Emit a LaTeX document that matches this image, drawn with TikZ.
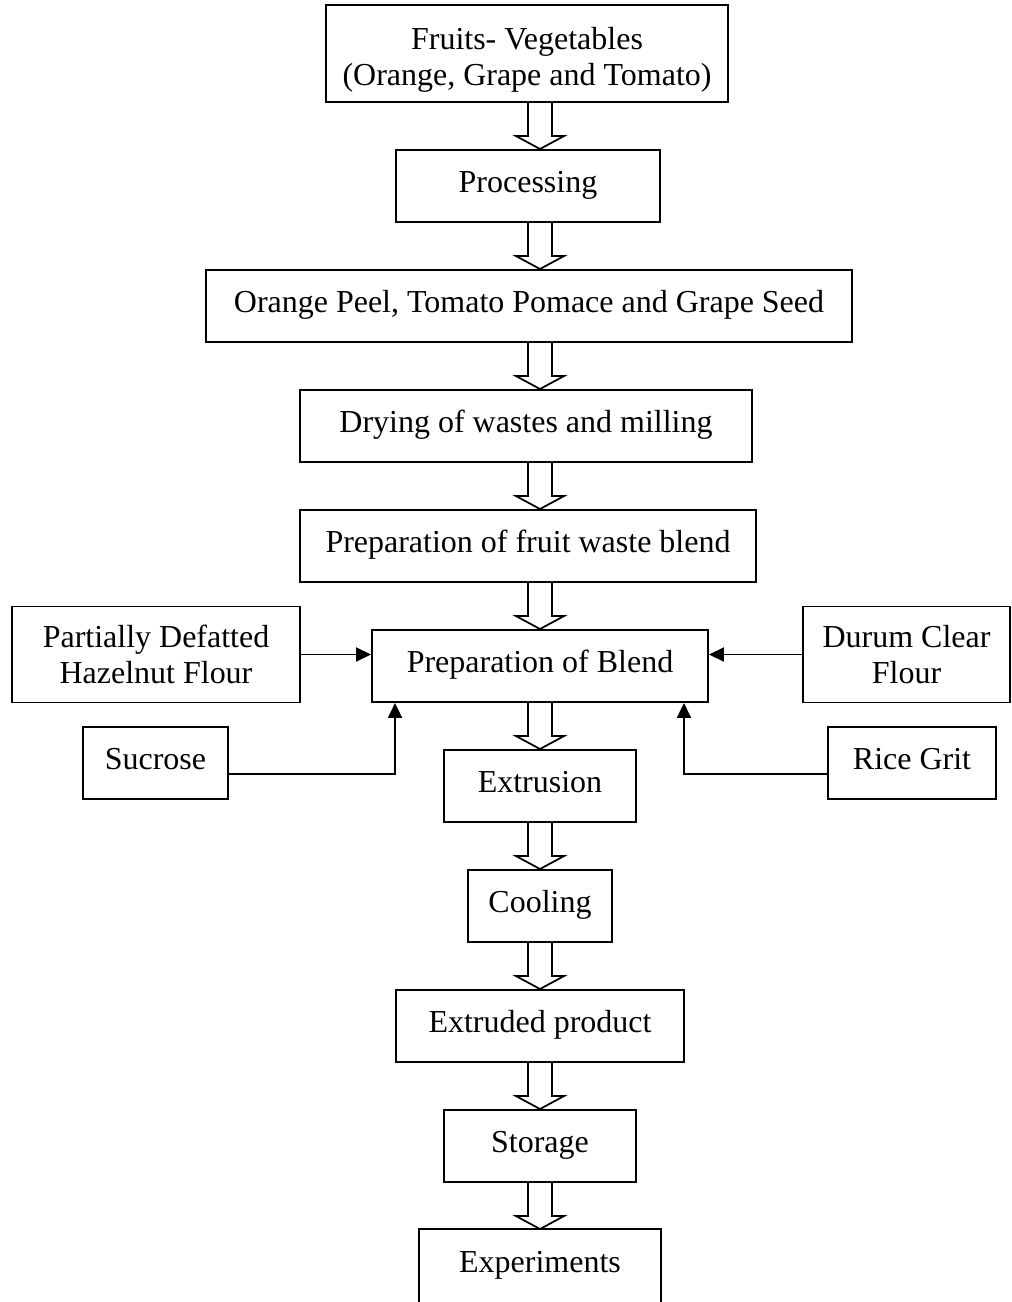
\documentclass[tikz,border=0pt]{standalone}
\usepackage{fontspec}
\setmainfont{Liberation Serif}
\usepackage{tikz}
\usetikzlibrary{arrows.meta, positioning, calc}

% seta vazada entre duas caixas da coluna central
\newcommand{\hollowdown}[2]{%
  \draw[line width=1pt, line join=miter]
    let \p1=(ax |- #1.south), \p2=(ax |- #2.north) in
    (\x1-0.24cm,\y1) -- (\x1-0.24cm,\y2+0.26cm) -- (\x1-0.48cm,\y2+0.26cm)
    -- (\x1,\y2) -- (\x1+0.48cm,\y2+0.26cm) -- (\x1+0.24cm,\y2+0.26cm) -- (\x1+0.24cm,\y1);
}

\begin{document}
\begin{tikzpicture}[
    box/.style={draw, line width=1.1pt, minimum height=1.44cm, align=center, inner sep=0pt,
      text height=0.44cm, text depth=0.2cm, font=\fontsize{18.2}{20.5}\selectfont},
    tall/.style={minimum height=1.92cm, text height=, text depth=},
    feed/.style={line width=1.1pt, -{Triangle[length=0.3cm, width=0.28cm]}}
  ]
  \clip (0,0) rectangle (20.22,-26.04);
  \useasboundingbox (0,0) rectangle (20.22,-26.04);
  \coordinate (ax) at (10.8,0);

  % Coluna central
  \node[box, tall, minimum width=8.04cm, minimum height=1.94cm] (fruits) at (10.54,-1.07) {\rule{0pt}{0.7cm}Fruits- Vegetables\\(Orange, Grape and Tomato)};
  \node[box, minimum width=5.28cm] (proc) at (10.56,-3.72) {Processing};
  \node[box, minimum width=12.92cm] (waste) at (10.58,-6.12) {Orange Peel, Tomato Pomace and Grape Seed};
  \node[box, minimum width=9.04cm] (dry) at (10.52,-8.52) {Drying of wastes and milling};
  \node[box, minimum width=9.12cm] (fwb) at (10.56,-10.92) {Preparation of fruit waste blend};
  \node[box, minimum width=6.72cm] (blend) at (10.8,-13.32) {Preparation of Blend};
  \node[box, minimum width=3.84cm] (extr) at (10.8,-15.72) {Extrusion};
  \node[box, minimum width=2.88cm] (cool) at (10.8,-18.12) {Cooling};
  \node[box, minimum width=5.76cm] (prod) at (10.8,-20.52) {Extruded product};
  \node[box, minimum width=3.84cm] (stor) at (10.8,-22.92) {Storage};
  \node[box, draw=none, minimum width=4.8cm] (exper) at (10.8,-25.32) {Experiments};
  % a última caixa sai da página, sem borda inferior
  \draw[line width=1.1pt] ([yshift=-0.4cm]exper.south west) -- (exper.north west)
    -- (exper.north east) -- ([yshift=-0.4cm]exper.south east);

  % Ingredientes laterais
  \node[box, tall, minimum width=5.76cm] (hazel) at (3.12,-13.09) {Partially Defatted\\Hazelnut Flour};
  \node[box, minimum width=2.9cm] (sucr) at (3.11,-15.26) {Sucrose};
  \node[box, tall, minimum width=4.14cm] (durum) at (18.13,-13.09) {Durum Clear\\Flour};
  \node[box, minimum width=3.36cm] (rice) at (18.24,-15.26) {Rice Grit};

  % Setas vazadas
  \hollowdown{fruits}{proc}
  \hollowdown{proc}{waste}
  \hollowdown{waste}{dry}
  \hollowdown{dry}{fwb}
  \hollowdown{fwb}{blend}
  \hollowdown{blend}{extr}
  \hollowdown{extr}{cool}
  \hollowdown{cool}{prod}
  \hollowdown{prod}{stor}
  \hollowdown{stor}{exper}

  % Entradas na mistura
  \draw[feed] (hazel.east) -- (hazel.east -| blend.west);
  \draw[feed] (durum.west) -- (durum.west -| blend.east);
  \draw[feed] ([yshift=-0.22cm]sucr.east) -| ([xshift=0.48cm]blend.south west);
  \draw[feed] ([yshift=-0.22cm]rice.west) -| ([xshift=-0.5cm]blend.south east);
\end{tikzpicture}
\end{document}
